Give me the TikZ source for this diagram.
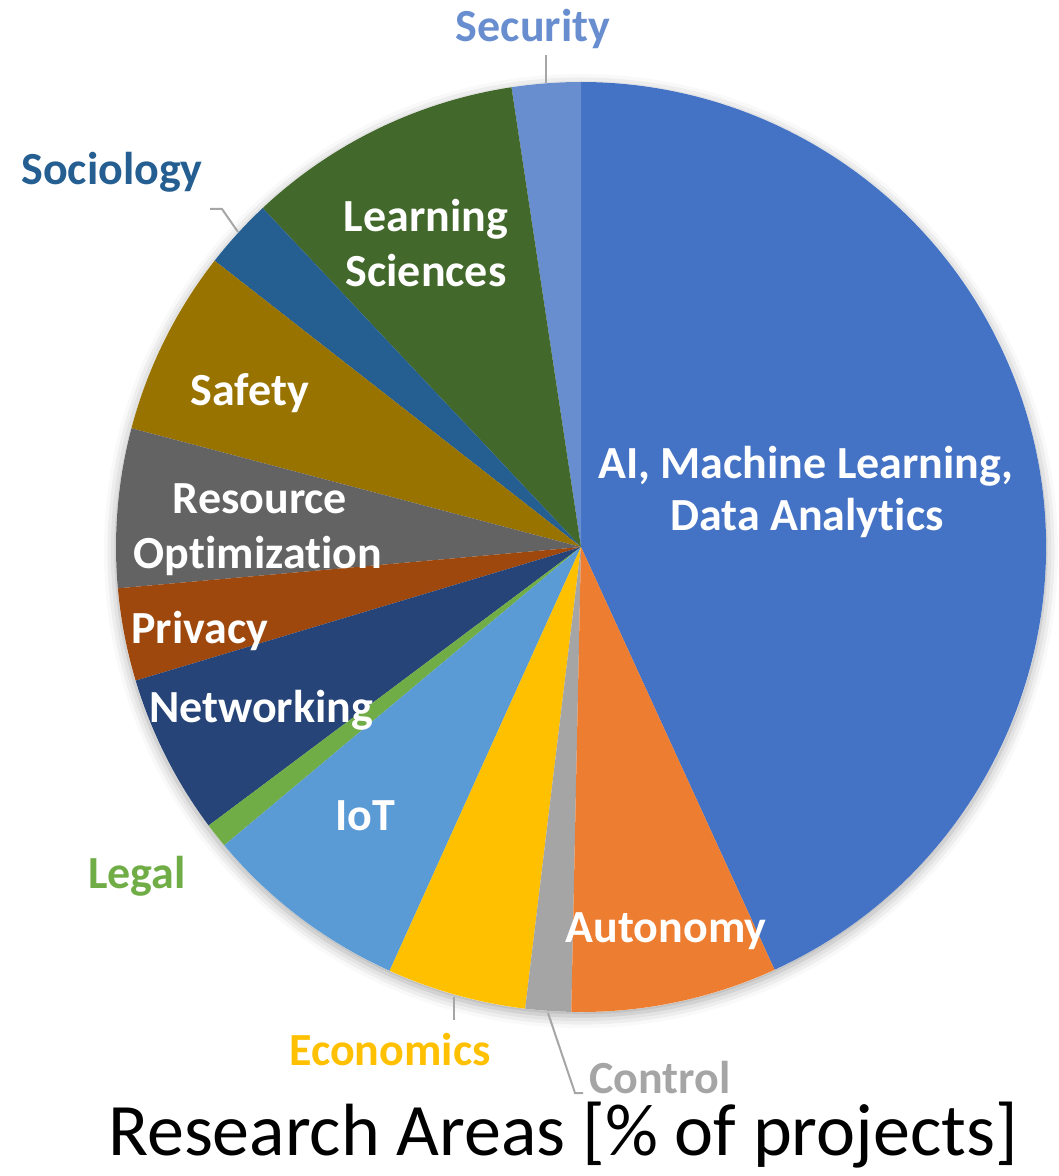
\documentclass[tikz,border=0pt]{standalone}
\usepackage{fontspec}
\setmainfont[Ligatures={NoCommon}]{Carlito}
\usetikzlibrary{shadows.blur}
\definecolor{cAI}{HTML}{4472C4}
\definecolor{cSec}{HTML}{698ED0}
\definecolor{cLearn}{HTML}{43682B}
\definecolor{cSoc}{HTML}{255E91}
\definecolor{cSafe}{HTML}{997300}
\definecolor{cRes}{HTML}{636363}
\definecolor{cPriv}{HTML}{9E480E}
\definecolor{cNet}{HTML}{264478}
\definecolor{cLegal}{HTML}{70AD47}
\definecolor{cIoT}{HTML}{5B9BD5}
\definecolor{cEcon}{HTML}{FFC000}
\definecolor{cCtrl}{HTML}{A5A5A5}
\definecolor{cAuto}{HTML}{ED7D31}
\definecolor{cLead}{HTML}{A6A6A6}
\newcommand\mkslice[3]{\fill[#3] (c) -- ++(#1:465) arc[start angle=#1,end angle=#2,radius=465] -- cycle;}
\begin{document}
\begin{tikzpicture}[x=0.75pt,y=0.75pt,
  lbl/.style={font=\bfseries\fontsize{34.5}{41.5}\selectfont, inner sep=0pt, anchor=base},
  inl/.style={lbl, text=white},
  leader/.style={draw=cLead, line width=1.5pt},
  title/.style={font=\fontsize{55.5}{66}\selectfont, inner sep=0pt, anchor=base}]
\useasboundingbox (0,0) rectangle (1058,-1176);
\coordinate (c) at (581,-547);
\fill[white, blur shadow={shadow xshift=0pt, shadow yshift=-3pt, shadow blur radius=9pt, shadow opacity=35}] (c) circle[radius=465];
\mkslice{-65.4}{90}{cAI}
\mkslice{90}{98.6}{cSec}
\mkslice{98.6}{133.2}{cLearn}
\mkslice{133.2}{142}{cSoc}
\mkslice{142}{165.2}{cSafe}
\mkslice{165.2}{185.1}{cRes}
\mkslice{185.1}{196.7}{cPriv}
\mkslice{196.7}{216.8}{cNet}
\mkslice{216.8}{219.9}{cLegal}
\mkslice{219.9}{245.7}{cIoT}
\mkslice{245.7}{263.1}{cEcon}
\mkslice{263.1}{268.8}{cCtrl}
\mkslice{268.8}{294.6}{cAuto}
% inside labels
\node[inl] (ai1) at (806,-478) {AI, Machine Learning,};
\node[inl] (ai2) at (807,-530) {Data Analytics};
\node[inl] (learn1) at (426,-232) {Learning};
\node[inl] (learn2) at (426,-287) {Sciences};
\node[inl] (safety) at (250,-405) {Safety};
\node[inl] (res1) at (260,-513) {Resource};
\node[inl] (res2) at (258,-568) {Optimization};
\node[inl] (privacy) at (200,-643) {Privacy};
\node[inl] (network) at (261,-722) {Networking};
\node[inl] (iot) at (365,-830) {IoT};
\node[inl] (autonomy) at (666,-942) {Autonomy};
% outside labels
\node[lbl, text=cSec] (security) at (533,-42) {Security};
\node[lbl, text=cSoc] (sociology) at (112,-185) {Sociology};
\node[lbl, text=cLegal] (legal) at (137,-888) {Legal};
\node[lbl, text=cEcon] (economics) at (390,-1065) {Economics};
\node[lbl, text=cCtrl] (control) at (660,-1093) {Control};
% leader lines
\coordinate (secA) at (546,-55);
\coordinate (secB) at (546,-83);
\draw[leader] (secA) -- (secB);
\coordinate (socA) at (210,-209);
\coordinate (socB) at (222,-209);
\coordinate (socC) at (238,-232);
\draw[leader] (socA) -- (socB) -- (socC);
\coordinate (ecoA) at (454,-1020);
\coordinate (ecoB) at (454,-997);
\draw[leader] (ecoA) -- (ecoB);
\coordinate (ctlA) at (583,-1093);
\coordinate (ctlB) at (575,-1093);
\coordinate (ctlC) at (548,-1013);
\draw[leader] (ctlA) -- (ctlB) -- (ctlC);
% title
\node[title] (title) at (563,-1155) {Research Areas [\% of projects]};
\end{tikzpicture}
\end{document}
